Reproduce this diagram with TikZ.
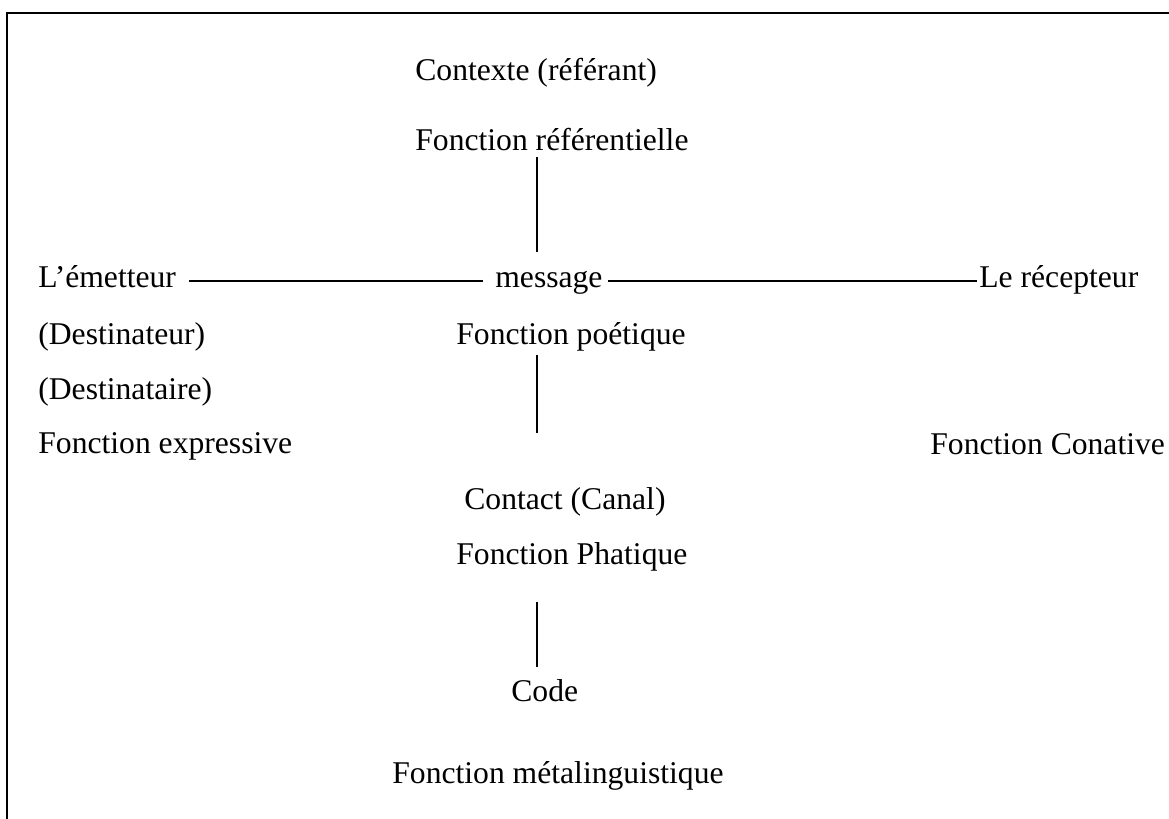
\documentclass[tikz,border=0pt]{standalone}
\usepackage{fontspec}
\setmainfont{Liberation Serif}
\usepackage{tikz}
\usetikzlibrary{calc}

\begin{document}
\begin{tikzpicture}[txt/.style={anchor=base west,inner sep=0pt,font=\fontsize{18}{21.6}\selectfont},
  lien/.style={line width=0.6pt}]
  \useasboundingbox (0,0) rectangle (23.38,-16.38);
  \draw[line width=0.04cm] (0.15,-16.38) -- (0.15,-0.26) -- (23.38,-0.26);
  \coordinate (axe) at (10.74,0);
  \node[txt] (ctx) at (8.30,-1.62) {Contexte (référant)};
  \node[txt] (ref) at (8.30,-3.02) {Fonction référentielle};
  \node[txt] (emet) at (0.76,-5.76) {L’émetteur};
  \node[txt] (msg) at (9.90,-5.76) {message};
  \node[txt] (recep) at (19.58,-5.76) {Le récepteur};
  \node[txt] (dtr) at (0.76,-6.90) {(Destinateur)};
  \node[txt] (poet) at (9.12,-6.90) {Fonction poétique};
  \node[txt] (dta) at (0.76,-8.00) {(Destinataire)};
  \node[txt] (expr) at (0.76,-9.08) {Fonction expressive};
  \node[txt] (conat) at (18.60,-9.10) {Fonction Conative};
  \node[txt] (contact) at (9.28,-10.20) {Contact (Canal)};
  \node[txt] (phat) at (9.12,-11.30) {Fonction Phatique};
  \node[txt] (code) at (10.22,-14.04) {Code};
  \node[txt] (meta) at (7.84,-15.66) {Fonction métalinguistique};
  \draw[lien,shorten <=0.26cm,shorten >=0.24cm] ([yshift=0.14cm]emet.base east) -- ([yshift=0.14cm]msg.base west);
  \draw[lien,shorten <=0.10cm,shorten >=0.04cm] ([yshift=0.14cm]msg.base east) -- ([yshift=0.14cm]recep.base west);
  \draw[lien,shorten <=0.12cm,shorten >=0.72cm] (ref.base -| axe) -- (msg.base -| axe);
  \draw[lien,shorten <=0.20cm,shorten >=1.54cm] (poet.base -| axe) -- (contact.base -| axe);
  \draw[lien,shorten <=0.74cm,shorten >=0.70cm] (phat.base -| axe) -- (code.base -| axe);
\end{tikzpicture}
\end{document}
